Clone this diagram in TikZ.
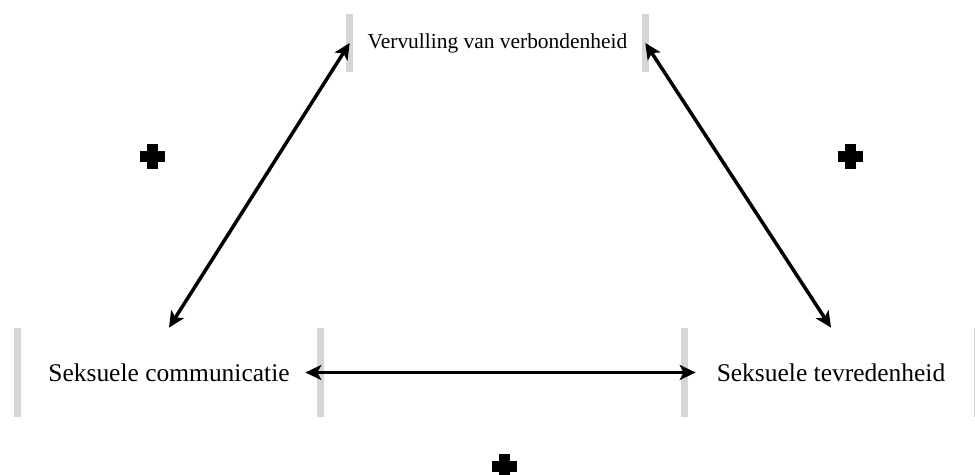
\documentclass[tikz,border=0pt]{standalone}
\usepackage{fontspec}
\setmainfont{Liberation Serif}
\usepackage{tikz}
\usetikzlibrary{arrows.meta}

\begin{document}
\begin{tikzpicture}[>={Stealth[length=0.32cm, width=0.3cm, inset=0.08cm]}, x=0.02cm, y=-0.02cm]
        \tikzset{
          box/.style={rectangle, inner sep=0pt, minimum height=#1},
          bar/.style={draw=black!16, line width=0.14cm},
          link/.style={<->, line width=0.07cm},
          plus/.style={fill=black}
        }
        \useasboundingbox (0,0) rectangle (975,475);
        \node[box=1.14cm, minimum width=5.9cm, font=\fontsize{12.2}{14}\selectfont] (V) at (497.5, 43) {Vervulling van verbondenheid};
        \node[box=1.78cm, minimum width=6.04cm, font=\fontsize{14.5}{17}\selectfont] (C) at (169, 372.5) {Seksuele communicatie};
        \node[box=1.78cm, minimum width=5.84cm, font=\fontsize{14.5}{17}\selectfont] (T) at (831, 372.5) {Seksuele tevredenheid};
        \foreach \n in {V, C, T} {
          \draw[bar] (\n.north west) -- (\n.south west);
          \draw[bar] (\n.north east) -- (\n.south east);
        }
        \draw[link] (C.north) -- (V.west);
        \draw[link] (V.east) -- (T.north);
        \draw[link, shorten <=-0.3cm, shorten >=-0.22cm] (C.east) -- (T.west);
        \foreach \px/\py in {152/157, 850/157, 504/467} {
          \fill[plus] (\px-12.5, \py-5.5) rectangle (\px+12.5, \py+5.5);
          \fill[plus] (\px-5.5, \py-12.5) rectangle (\px+5.5, \py+12.5);
        }
      \end{tikzpicture}
\end{document}
